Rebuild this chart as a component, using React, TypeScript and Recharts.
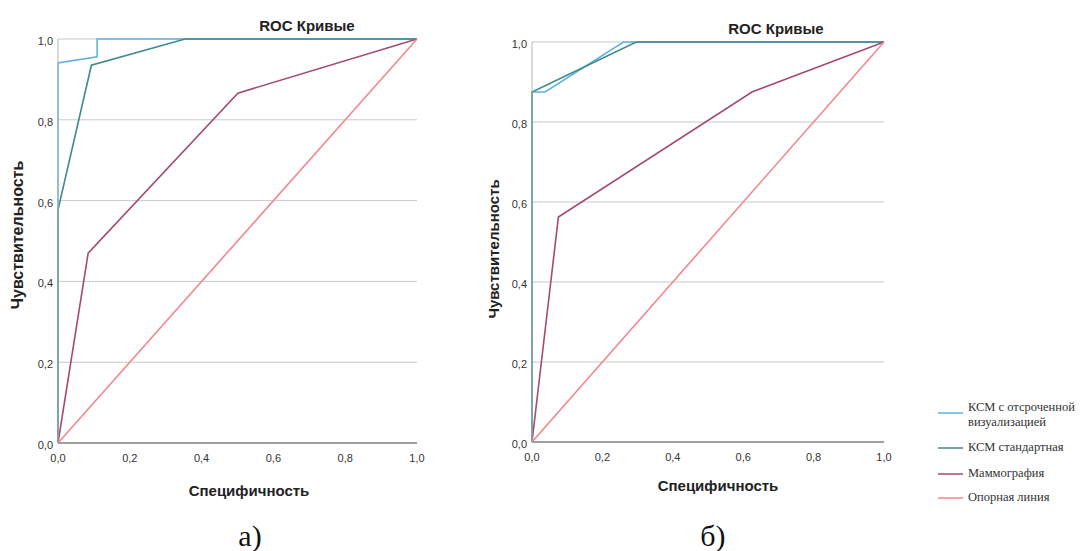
import React from "react";
import { LineChart, Line, XAxis, YAxis, CartesianGrid } from "recharts";

// ---- data ----
const seriesNames = ["КСМ с отсроченной визуализацией", "КСМ стандартная", "Маммография", "Опорная линия"];
const legendLines = [["КСМ с отсроченной", "визуализацией"], ["КСМ стандартная"], ["Маммография"], ["Опорная линия"]];
const seriesColors = ["#5cb3e2", "#3f8a8a", "#a34b74", "#f2878c"];
const axisTicks = [0, 0.2, 0.4, 0.6, 0.8, 1.0];
const chartTitle = "ROC Кривые";
const xTitle = "Специфичность";
const yTitle = "Чувствительность";
const panelLabels = ["а)", "б)"];

// panel а)
const aDelayedX = [0, 0, 0.109, 0.109, 1];
const aDelayedY = [0, 0.941, 0.956, 1, 1];
const aStandardX = [0, 0, 0.093, 0.354, 1];
const aStandardY = [0, 0.577, 0.935, 1, 1];
const aMammoX = [0, 0.084, 0.501, 1];
const aMammoY = [0, 0.47, 0.866, 1];
const refX = [0, 1];
const refY = [0, 1];

// panel б)
const bDelayedX = [0, 0, 0.037, 0.26, 1];
const bDelayedY = [0, 0.875, 0.875, 1, 1];
const bStandardX = [0, 0, 0.296, 1];
const bStandardY = [0, 0.875, 1, 1];
const bMammoX = [0, 0.075, 0.625, 1];
const bMammoY = [0, 0.5625, 0.875, 1];

const zip = (xs: number[], ys: number[]) => xs.map((x, i) => ({ x, y: ys[i] }));

const panelA = [zip(aDelayedX, aDelayedY), zip(aStandardX, aStandardY), zip(aMammoX, aMammoY), zip(refX, refY)];
const panelB = [zip(bDelayedX, bDelayedY), zip(bStandardX, bStandardY), zip(bMammoX, bMammoY), zip(refX, refY)];

const fmt = (v: number) => v.toFixed(1).replace(".", ",");
const SANS = "Arial, 'Liberation Sans', sans-serif";
const SERIF = "'Times New Roman', 'Liberation Serif', serif";

const YTick = (props: any) => (
  <text x={props.x - 5} y={props.y + 6} textAnchor="end" fontSize={11} fill="#333" fontFamily={SANS}>
    {fmt(props.payload.value)}
  </text>
);
const XTick = (props: any) => (
  <text x={props.x} y={props.y + 19} textAnchor="middle" fontSize={11} fill="#333" fontFamily={SANS}>
    {fmt(props.payload.value)}
  </text>
);

const Panel = ({ series, left, margin }: { series: { x: number; y: number }[][]; left: number; margin: any }) => (
  <div style={{ position: "absolute", left, top: 0 }}>
    <LineChart width={430} height={480} margin={margin}>
      <CartesianGrid vertical={false} stroke="#c9c9c9" strokeWidth={1} />
      <XAxis
        type="number"
        dataKey="x"
        domain={[0, 1]}
        ticks={axisTicks}
        height={20}
        tickLine={false}
        tickSize={0}
        tickMargin={0}
        axisLine={{ stroke: "#8a8a8a", strokeWidth: 1.5 }}
        tick={XTick}
      />
      <YAxis
        type="number"
        dataKey="y"
        domain={[0, 1]}
        ticks={axisTicks}
        width={58}
        tickLine={false}
        tickSize={0}
        tickMargin={0}
        axisLine={{ stroke: "#b5b5b5", strokeWidth: 1 }}
        tick={YTick}
      />
      {series.map((d, i) => (
        <Line
          key={seriesNames[i]}
          name={seriesNames[i]}
          data={d}
          dataKey="y"
          type="linear"
          stroke={seriesColors[i]}
          strokeWidth={1.6}
          dot={false}
          activeDot={false}
          isAnimationActive={false}
        />
      ))}
    </LineChart>
  </div>
);

export default function App() {
  return (
    <div style={{ position: "absolute", left: 0, top: 0, width: 1082, height: 551, background: "#fff", overflow: "hidden" }}>
      <Panel series={panelA} left={0} margin={{ top: 39, right: 13, bottom: 17, left: 0 }} />
      <Panel series={panelB} left={474} margin={{ top: 42, right: 20, bottom: 18, left: 0 }} />
      <svg width={1082} height={551} style={{ position: "absolute", left: 0, top: 0, pointerEvents: "none" }}>
        {/* titles */}
        <text x={307} y={31} textAnchor="middle" fontFamily={SANS} fontWeight="bold" fontSize={15} fill="#222">{chartTitle}</text>
        <text x={776} y={34} textAnchor="middle" fontFamily={SANS} fontWeight="bold" fontSize={15} fill="#222">{chartTitle}</text>
        {/* axis titles */}
        <text x={249} y={496} textAnchor="middle" fontFamily={SANS} fontWeight="bold" fontSize={15} fill="#222">{xTitle}</text>
        <text x={718} y={491} textAnchor="middle" fontFamily={SANS} fontWeight="bold" fontSize={15} fill="#222">{xTitle}</text>
        <text transform="translate(23,235) rotate(-90)" textAnchor="middle" fontFamily={SANS} fontWeight="bold" fontSize={16} fill="#222">{yTitle}</text>
        <text transform="translate(499,249) rotate(-90)" textAnchor="middle" fontFamily={SANS} fontWeight="bold" fontSize={15} fill="#222">{yTitle}</text>
        {/* panel labels */}
        <text x={250} y={546} textAnchor="middle" fontFamily={SERIF} fontSize={30} fill="#111">{panelLabels[0]}</text>
        <text x={713} y={546} textAnchor="middle" fontFamily={SERIF} fontSize={30} fill="#111">{panelLabels[1]}</text>
        {/* legend */}
        {[
          { ly: 413, ty: 410.5 },
          { ly: 448, ty: 451 },
          { ly: 474, ty: 476.5 },
          { ly: 498, ty: 500.5 },
        ].map((p, i) => (
          <g key={i}>
            <line x1={938} x2={963} y1={p.ly} y2={p.ly} stroke={seriesColors[i]} strokeWidth={1.5} />
            {legendLines[i].map((t, j) => (
              <text key={j} x={968} y={p.ty + j * 15} fontFamily={SERIF} fontSize={12.5} fill="#333">{t}</text>
            ))}
          </g>
        ))}
      </svg>
    </div>
  );
}
